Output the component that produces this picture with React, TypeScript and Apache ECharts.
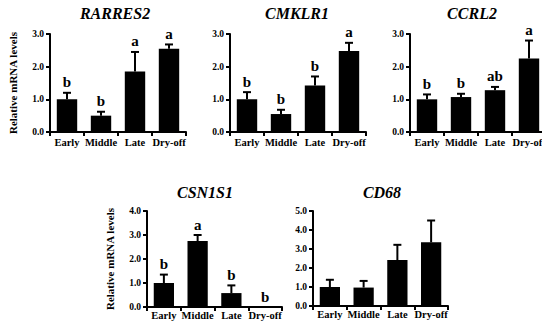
import React, { useEffect, useRef } from "react";
import * as echarts from "echarts";

const categories = ["Early", "Middle", "Late", "Dry-off"];

const rarres2Mean = [1.0, 0.5, 1.85, 2.55];
const rarres2Err = [0.2, 0.12, 0.6, 0.13];
const rarres2Letters = ["b", "b", "a", "a"];

const cmklr1Mean = [1.0, 0.55, 1.42, 2.48];
const cmklr1Err = [0.22, 0.13, 0.28, 0.25];
const cmklr1Letters = ["b", "b", "b", "a"];

const ccrl2Mean = [1.0, 1.07, 1.28, 2.25];
const ccrl2Err = [0.15, 0.1, 0.1, 0.55];
const ccrl2Letters = ["b", "b", "ab", "a"];

const csn1s1Mean = [1.0, 2.75, 0.58, 0.0];
const csn1s1Err = [0.35, 0.25, 0.32, 0.0];
const csn1s1Letters = ["b", "a", "b", "b"];

const cd68Mean = [1.0, 0.97, 2.42, 3.35];
const cd68Err = [0.38, 0.35, 0.8, 1.15];
const cd68Letters = ["", "", "", ""];

const yMaxes = [3, 3, 3, 4, 5];
const titles = ["RARRES2", "CMKLR1", "CCRL2", "CSN1S1", "CD68"];
const yName = "Relative mRNA levels";

const FONT = "Liberation Serif";

export default function App() {
  const ref = useRef<HTMLDivElement>(null);
  useEffect(() => {
    if (!ref.current) return;
    const chart = echarts.init(ref.current, null, { renderer: "svg" });
    const panels = [
      { mean: rarres2Mean, err: rarres2Err, letters: rarres2Letters },
      { mean: cmklr1Mean, err: cmklr1Err, letters: cmklr1Letters },
      { mean: ccrl2Mean, err: ccrl2Err, letters: ccrl2Letters },
      { mean: csn1s1Mean, err: csn1s1Err, letters: csn1s1Letters },
      { mean: cd68Mean, err: cd68Err, letters: cd68Letters },
    ];
    const grids = [
      { left: 50, top: 34, width: 136, height: 98 },
      { left: 230, top: 34, width: 136, height: 98 },
      { left: 410, top: 34, width: 136, height: 98 },
      { left: 147, top: 211, width: 135, height: 96 },
      { left: 313, top: 211, width: 135, height: 95 },
    ];
    const titleX = [115, 297, 472, 205, 382];
    const titleY = [5, 5, 5, 184, 184];
    const xLabelMargin = [5, 5, 5, 3, 3];
    const axisLine = { show: true, lineStyle: { color: "#000", width: 2 } };
    const xAxis = grids.map((_, i) => ({
      type: "category",
      gridIndex: i,
      data: categories,
      axisLine,
      axisTick: { show: true, length: 4, lineStyle: { color: "#000", width: 2 } },
      axisLabel: { interval: 0, color: "#000", fontFamily: FONT, fontWeight: "bold", fontSize: 10.5, margin: xLabelMargin[i] },
    }));
    const yAxis = grids.map((_, i) => ({
      type: "value",
      gridIndex: i,
      min: 0,
      max: yMaxes[i],
      interval: 1,
      name: i === 0 || i === 3 ? yName : "",
      nameLocation: "middle",
      nameGap: 32,
      nameTextStyle: { color: "#000", fontFamily: FONT, fontWeight: "bold", fontSize: 11 },
      splitLine: { show: false },
      axisLine,
      axisTick: { show: true, length: 4, lineStyle: { color: "#000", width: 2 } },
      axisLabel: {
        color: "#000",
        fontFamily: FONT,
        fontWeight: "bold",
        fontSize: 9.5,
        margin: 6,
        formatter: (v: number) => v.toFixed(1),
      },
    }));
    const series: any[] = [];
    panels.forEach((p, i) => {
      series.push({
        type: "bar",
        xAxisIndex: i,
        yAxisIndex: i,
        data: p.mean,
        barWidth: "60%",
        itemStyle: { color: "#000" },
        z: 2,
      });
      series.push({
        type: "custom",
        xAxisIndex: i,
        yAxisIndex: i,
        data: p.mean.map((m, j) => [j, m, p.err[j]]),
        z: 3,
        renderItem: (params: any, api: any) => {
          const idx = api.value(0);
          const m = api.value(1);
          const e = api.value(2);
          const base = api.coord([idx, m]);
          const top = api.coord([idx, m + e]);
          const children: any[] = [];
          if (e > 0) {
            children.push({
              type: "line",
              shape: { x1: base[0], y1: base[1], x2: top[0], y2: top[1] },
              style: { stroke: "#000", lineWidth: 2 },
            });
            children.push({
              type: "line",
              shape: { x1: top[0] - 4, y1: top[1], x2: top[0] + 4, y2: top[1] },
              style: { stroke: "#000", lineWidth: 2 },
            });
          }
          const letter = p.letters[idx];
          if (letter) {
            children.push({
              type: "text",
              x: top[0],
              y: top[1] - 3,
              style: {
                text: letter,
                fill: "#000",
                fontFamily: FONT,
                fontWeight: "bold",
                fontSize: 15,
                textAlign: "center",
                textVerticalAlign: "bottom",
              },
            });
          }
          return { type: "group", children };
        },
      });
    });
    chart.setOption({
      animation: false,
      backgroundColor: "#fff",
      textStyle: { fontFamily: FONT },
      title: titles.map((t, i) => ({
        text: t,
        left: titleX[i],
        top: titleY[i],
        padding: 0,
        textAlign: "center",
        textStyle: { color: "#000", fontFamily: FONT, fontWeight: "bold", fontStyle: "italic", fontSize: 16 },
      })),
      grid: grids,
      xAxis,
      yAxis,
      series,
    });
    return () => chart.dispose();
  }, []);
  return <div ref={ref} style={{ width: 550, height: 330, margin: -8 }} />;
}
